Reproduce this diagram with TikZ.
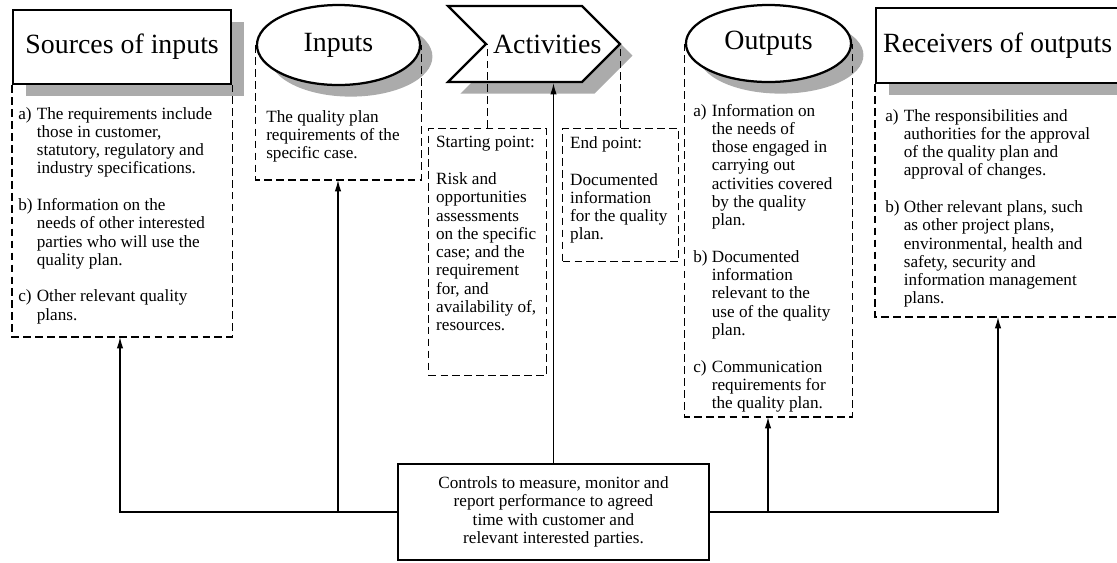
\documentclass[tikz,border=0pt]{standalone}
\usepackage{fontspec}
\setmainfont{Liberation Serif}
\usetikzlibrary{shapes.geometric,shapes.symbols,arrows.meta,positioning,shadows}

\newcommand{\hdrfont}{\fontsize{19.8}{22}\selectfont}
\newcommand{\txtfont}{\fontsize{12.2}{13}\selectfont}

\begin{document}
\begin{tikzpicture}[
    x=0.025cm, y=-0.025cm,
    header/.style={draw, line width=1.6pt, fill=white, font=\hdrfont, inner sep=0pt,
        drop shadow={shadow xshift=0.31cm, shadow yshift=-0.29cm, fill=black!33, opacity=1}},
    hdrbox/.style={header, rectangle, anchor=north west},
    hdroval/.style={header, ellipse},
    hdrsignal/.style={header, signal, signal from=west, signal to=east},
    bodytext/.style={font=\txtfont, inner sep=0pt, align=left, anchor=north west},
    dashline/.style={dash pattern=on 5.5pt off 3pt, line width=0.8pt},
    subbox/.style={draw, dashline, font=\txtfont, inner xsep=0.19cm, inner ysep=0.2cm, anchor=north west},
    ctrlbox/.style={draw, line width=1.6pt, fill=white, font=\txtfont, align=center, minimum width=7.78cm, minimum height=2.4cm},
    arrow/.style={-{Latex[length=8pt, width=4.5pt]}, line width=0.8pt}
]
\clip (0,0) rectangle (1117,562);
\fill[white] (0,0) rectangle (1117,562);

% Headers
\node[hdrbox, minimum width=5.45cm, minimum height=1.85cm] (src) at (12,9) {Sources of inputs};
\node[hdroval, minimum width=4.075cm, minimum height=2cm] (in) at (338.5,45) {Inputs};
\node[hdrsignal, minimum width=4.3cm, minimum height=1.9cm,
    label={[font=\hdrfont, xshift=0.33cm]center:Activities}] (act) at (534,44) {};
\node[hdroval, minimum width=4.125cm, minimum height=1.925cm] (out) at (768.5,43.5) {Outputs};
\node[hdrbox, minimum width=6.075cm, minimum height=1.875cm] (rec) at (875,7) {Receivers of outputs};

% Ends of the boxes
\coordinate (srcend) at (120,337);
\coordinate (inend) at (338,180);
\coordinate (outend) at (768,417);
\coordinate (recend) at (998,317);

% Dashed boxes
\draw[dashline] (src.south west) -- (src.south west |- srcend) -- (src.south east |- srcend) -- (src.south east);
\draw[dashline] (in.west) -- (in.west |- inend) -- (in.east |- inend) -- (in.east);
\draw[dashline] (out.west) -- (out.west |- outend) -- (out.east |- outend) -- (out.east);
\draw[dashline] (rec.south west) -- (rec.south west |- recend) -- (rec.south east |- recend) -- (rec.south east);

\node[subbox] (startb) at (428,128) {\parbox[t][5.775cm][t]{2.57cm}{Starting point:\\[13pt]Risk and\\opportunities\\assessments\\on the specific\\case; and the\\requirement\\for, and\\availability of,\\resources.}};
\node[subbox] (endb) at (562,128) {\parbox[t][2.925cm][t]{2.52cm}{End point:\\[13pt]Documented\\information\\for the quality\\plan.}};
\draw[dashline] (startb.north) -- (startb.north |- act.center);
\draw[dashline] (endb.north) -- (endb.north |- act.east);

% Box texts
\node[bodytext] (srctxt) at (18,106) {\begin{tabular}{@{}l@{~}l@{}}
a) & The requirements include\\
   & those in customer,\\
   & statutory, regulatory and\\
   & industry specifications.\\[13pt]
b) & Information on the\\
   & needs of other interested\\
   & parties who will use the\\
   & quality plan.\\[13pt]
c) & Other relevant quality\\
   & plans.
\end{tabular}};
\node[bodytext] (intxt) at (266,110) {The quality plan\\requirements of the\\specific case.};
\node[bodytext] (outtxt) at (693,103) {\begin{tabular}{@{}l@{~}l@{}}
a) & Information on\\
   & the needs of\\
   & those engaged in\\
   & carrying out\\
   & activities covered\\
   & by the quality\\
   & plan.\\[13pt]
b) & Documented\\
   & information\\
   & relevant to the\\
   & use of the quality\\
   & plan.\\[13pt]
c) & Communication\\
   & requirements for\\
   & the quality plan.
\end{tabular}};
\node[bodytext] (rectxt) at (885,108) {\begin{tabular}{@{}l@{~}l@{}}
a) & The responsibilities and\\
   & authorities for the approval\\
   & of the quality plan and\\
   & approval of changes.\\[13pt]
b) & Other relevant plans, such\\
   & as other project plans,\\
   & environmental, health and\\
   & safety, security and\\
   & information management\\
   & plans.
\end{tabular}};

% Controls
\node[ctrlbox] (ctrl) at (553.5,512) {Controls to measure, monitor and\\report performance to agreed\\time with customer and\\relevant interested parties.};

% Arrows
\draw[arrow] (ctrl.west) -| (srcend);
\draw[arrow] (inend |- ctrl.west) -- (inend);
\draw[arrow] (ctrl.north) -- (ctrl.north |- act.south);
\draw[arrow] (ctrl.east) -| (recend);
\draw[arrow] (outend |- ctrl.east) -- (outend);
\end{tikzpicture}
\end{document}
